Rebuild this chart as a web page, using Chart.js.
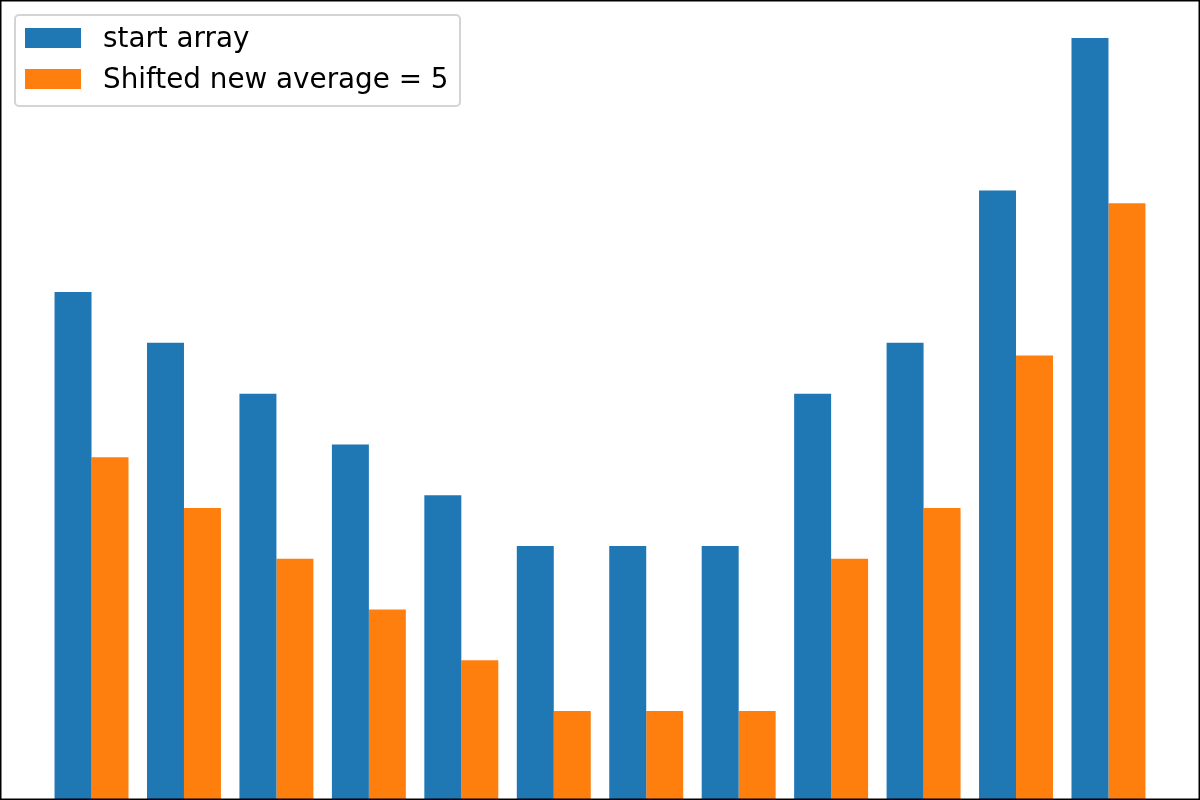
<!DOCTYPE html>
<html>
<head>
<meta charset="utf-8">
<script src="https://cdn.jsdelivr.net/npm/chart.js@4"></script>
<style>
  html, body { margin: 0; padding: 0; background: #fff; }
  #wrap { position: relative; width: 1200px; height: 800px; }
  #c { display: block; }
  #legendBox {
    position: absolute; left: 14px; top: 14px; width: 447px; height: 93px;
    box-sizing: border-box; border: 2px solid #d4d4d4; border-radius: 5px;
    background: rgba(255,255,255,0.8);
  }
  .lrow {
    position: absolute; left: 25px; height: 41px; line-height: 41px;
    display: flex; align-items: center; white-space: nowrap;
    font-family: "DejaVu Sans", sans-serif; font-size: 27.8px; color: #000;
  }
  .sw { width: 56px; height: 20px; margin-right: 22px; flex: none; }
</style>
</head>
<body>
<div id="wrap">
  <canvas id="c" width="1200" height="800"></canvas>
  <div id="legendBox"></div>
</div>
<script>
// Data
const positions = [0, 1, 2, 3, 4, 5, 6, 7, 8, 9, 10, 11];
const startArray = [10, 9, 8, 7, 6, 5, 5, 5, 8, 9, 12, 15];
const shiftedArray = [6.75, 5.75, 4.75, 3.75, 2.75, 1.75, 1.75, 1.75, 4.75, 5.75, 8.75, 11.75];
const seriesLabels = ["start array", "Shifted new average = 5"];
const seriesColors = ["#1f77b4", "#ff7f0e"];

const frame = {
  id: 'frame',
  afterDraw(chart) {
    const a = chart.chartArea, ctx = chart.ctx;
    ctx.save();
    ctx.strokeStyle = '#000';
    ctx.lineWidth = 1.5;
    ctx.strokeRect(a.left + 0.75, a.top + 0.75, a.right - a.left - 1.5, a.bottom - a.top - 1.5);
    ctx.restore();
  }
};

const chart = new Chart(document.getElementById('c'), {
  type: 'bar',
  data: {
    datasets: [
      { label: seriesLabels[0], data: positions.map((x, i) => ({ x: x, y: startArray[i] })), backgroundColor: seriesColors[0], borderWidth: 0 },
      { label: seriesLabels[1], data: positions.map((x, i) => ({ x: x, y: shiftedArray[i] })), backgroundColor: seriesColors[1], borderWidth: 0 }
    ]
  },
  options: {
    responsive: false,
    animation: false,
    layout: { padding: 0 },
    datasets: { bar: { categoryPercentage: 0.8, barPercentage: 1.0 } },
    plugins: { legend: { display: false }, tooltip: { enabled: false } },
    scales: {
      x: { type: 'linear', display: false, offset: false, min: -0.99, max: 11.99,
           ticks: { stepSize: 1, includeBounds: false }, grid: { display: false } },
      y: { display: false, min: 0, max: 15.75, grid: { display: false } }
    }
  },
  plugins: [frame]
});

// HTML legend built from the series
const wrap = document.getElementById('wrap');
seriesLabels.forEach((lab, i) => {
  const row = document.createElement('div');
  row.className = 'lrow';
  row.style.top = (17 + i * 41) + 'px';
  const sw = document.createElement('span');
  sw.className = 'sw';
  sw.style.background = seriesColors[i];
  const t = document.createElement('span');
  t.textContent = lab;
  row.appendChild(sw);
  row.appendChild(t);
  wrap.appendChild(row);
});
</script>
</body>
</html>
